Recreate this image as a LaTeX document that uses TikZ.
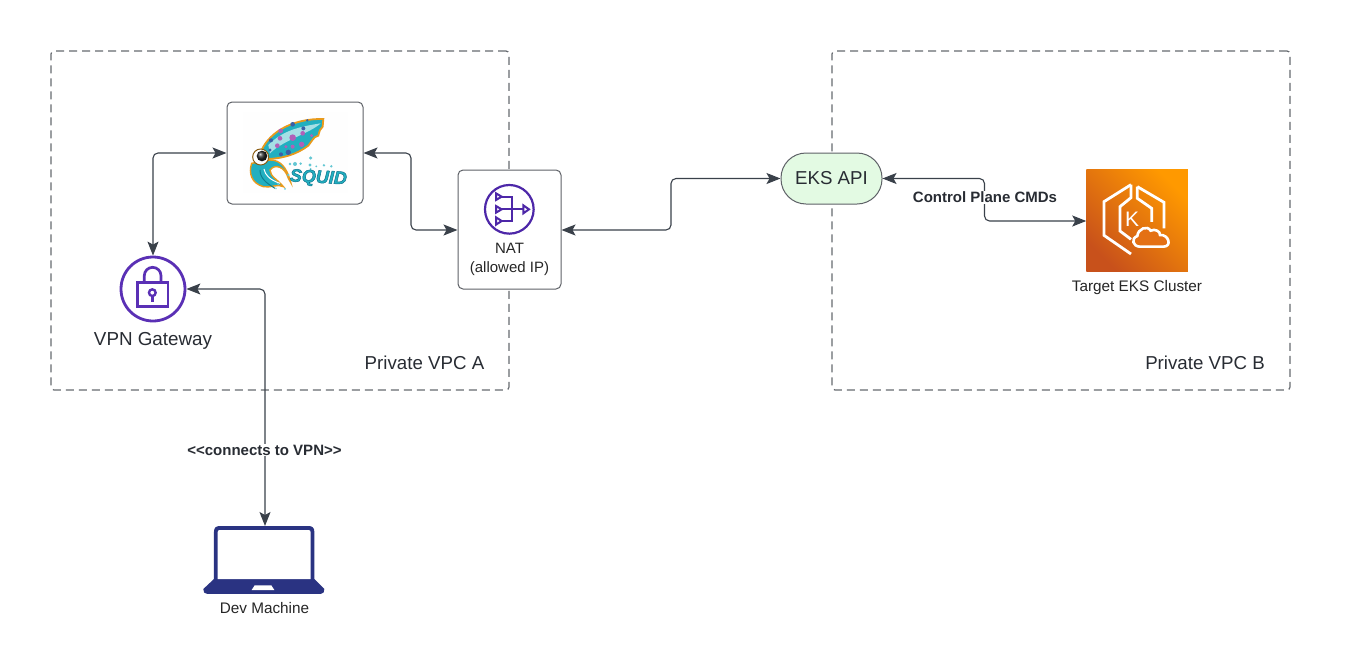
\documentclass[tikz,border=0pt]{standalone}
\usepackage{fontspec}
\setmainfont{Liberation Sans}
\usetikzlibrary{arrows.meta,positioning}
\definecolor{conncol}{HTML}{3A414A}
\definecolor{boxline}{HTML}{5E6167}
\definecolor{dashline}{HTML}{666A70}
\definecolor{txt}{HTML}{282C33}
\definecolor{vpnpurple}{HTML}{5A30B5}
\definecolor{natpurple}{HTML}{4D27A8}
\definecolor{navy}{HTML}{2A3382}
\definecolor{apigreen}{HTML}{E3FAE3}
\definecolor{sqteal}{HTML}{22AFC0}
\definecolor{sqdark}{HTML}{0F7E8E}
\definecolor{sqor}{HTML}{E89A1C}
\definecolor{sqpink}{HTML}{B060B8}
\definecolor{sqblue}{HTML}{3A5FA8}
\definecolor{eksdark}{HTML}{C8511B}
\definecolor{ekslight}{HTML}{FF9900}
\definecolor{eksmid}{HTML}{E47014}
\tikzset{
  x=1pt,y=-1pt,
  vpc/.style={draw=dashline,line width=1.2pt,dash pattern=on 8pt off 5pt,rounded corners=3pt},
  card/.style={draw=boxline,line width=1pt,fill=white,rounded corners=5pt,minimum width=136pt,minimum height=102pt,inner sep=0pt},
  connline/.style={draw=conncol,line width=1.1pt,rounded corners=5pt,{Stealth[length=14pt,width=11pt,inset=3pt]}-{Stealth[length=14pt,width=11pt,inset=3pt]}},
  lab/.style={font=\fontsize{15}{17}\selectfont\bfseries,text=txt,fill=white,inner xsep=1pt,inner ysep=1pt},
  captxt/.style={font=\fontsize{15.3}{18}\selectfont,text=black!85!white,inner sep=0pt,align=center},
  vpctext/.style={font=\fontsize{18.7}{22}\selectfont,text=txt,inner sep=0pt},
}
\begin{document}
\begin{tikzpicture}
\useasboundingbox (0,0) rectangle (1358,667);
\fill[white] (0,0) rectangle (1358,667);
% VPC frames
\node[vpc,minimum width=458pt,minimum height=339pt,inner sep=0pt] (vpcA) at (280,220.5) {};
\node[vpc,minimum width=458pt,minimum height=339pt,inner sep=0pt] (vpcB) at (1061,220.5) {};
\node[vpctext] (vpcAt) at (424.5,363) {Private VPC A};
\node[vpctext] (vpcBt) at (1205,363) {Private VPC B};
% nodes
\node[card] (squid) at (295,153) {};
\node[circle,draw=vpnpurple,line width=2.8pt,minimum size=64pt,inner sep=0pt] (vpn) at (153,289) {};
\node[card,minimum width=103pt,minimum height=119pt] (nat) at (509.5,229.5) {};
\node[draw=boxline,line width=1pt,fill=apigreen,rounded corners=25pt,minimum width=101pt,minimum height=51pt,inner sep=0pt,font=\fontsize{18.7}{22}\selectfont,text=txt] (api) at (831.5,178.5) {EKS API};
\node[inner sep=0pt,minimum size=101.5pt,bottom color=eksdark,top color=ekslight,shading angle=-45] (eks) at (1137.2,220.3) {};
\coordinate (laptoptop) at (265,526);
% connectors
\draw[connline] (vpn.north) |- (squid.west);
\draw[connline] (squid.east) -- (411,153) -- (411,230) -- (nat.west |- 411,230);
\draw[connline] (nat.east |- 0,230) -- (671,230) -- (671,178.5) -- (api.west);
\draw[connline] (api.east) -- (984.5,178.5) -- (984.5,221) -- (eks.west |- 0,221);
\draw[connline] (vpn.east) -- (265,289) -- (laptoptop);
\node[lab] (l1) at (985,197.5) {Control Plane CMDs};
\node[lab] (l2) at (264.5,450) {<{}<connects to VPN>{}>};
% captions
\node[font=\fontsize{18.8}{22}\selectfont,text=txt,inner sep=0pt] (vpnt) at (153,341) {VPN Gateway};
\node[captxt,font=\fontsize{15}{19}\selectfont] (natt) at (509.5,259) {NAT\\(allowed IP)};
\node[captxt] (eksl) at (1137,288) {Target EKS Cluster};
\node[captxt] (devl) at (264.5,608.5) {Dev Machine};
% VPN lock
\begin{scope}[shift={(100,245)},x=0.3333pt,y=-0.3333pt]
  \draw[vpnpurple,line width=2.7pt] (113,113) rectangle (204,184);
  \draw[vpnpurple,line width=2.7pt] (133,113) -- (133,92) arc[start angle=180,end angle=360,x radius=25,y radius=25] -- (183,113);
  \draw[vpnpurple,line width=2.4pt] (157,143) circle[radius=10];
  \draw[vpnpurple,line width=2.4pt] (157,153) -- (157,170);
\end{scope}
% NAT icon
\begin{scope}[shift={(450,160)},x=0.3333pt,y=-0.3333pt]
  \draw[natpurple,line width=2.2pt] (178,148) circle[radius=73];
  \begin{scope}[natpurple,line width=2pt,line join=miter]
    \draw (138,100) -- (155,110) -- (138,120) -- cycle;
    \draw (138,138) -- (155,148) -- (138,158) -- cycle;
    \draw (138,172) -- (155,183) -- (138,194) -- cycle;
    \draw (220,136) -- (237,148) -- (220,160) -- cycle;
    \draw (155,110) -- (187,110) -- (187,183) -- (155,183);
    \draw (155,148) -- (220,148);
  \end{scope}
\end{scope}
% EKS icon
\begin{scope}[shift={(1060,160)},x=0.3333pt,y=-0.3333pt,white,line width=2.8pt,line join=miter]
  \draw (213,74) -- (132,125) -- (132,226) -- (213,282);
  \draw (213,74) -- (213,113) -- (180,140) -- (180,213) -- (213,238);
  \draw (232,80) -- (232,115) -- (275,145) -- (275,186);
  \draw (232,80) -- (312,127) -- (312,205);
  \node[white,inner sep=0pt,font=\fontsize{21}{21}\selectfont] (kk) at (216,178) {K};
  \draw[fill=eksmid,line width=2.6pt]
    (240,260) .. controls (218,260) and (212,235) .. (232,228)
    .. controls (234,206) and (262,195) .. (272,212)
    .. controls (285,205) and (302,215) .. (300,225)
    .. controls (325,222) and (338,260) .. (310,260) -- cycle;
\end{scope}
% Laptop
\begin{scope}[shift={(190,515)},x=0.3333pt,y=-0.3333pt]
  \fill[navy] (40,222) -- (72,192) -- (72,50) .. controls (72,38) and (78,33) .. (90,33) -- (355,33) .. controls (367,33) and (373,38) .. (373,50) -- (373,192) -- (403,222) .. controls (404,230) and (400,237) .. (392,237) -- (52,237) .. controls (44,237) and (38,230) .. (40,222) -- cycle;
  \fill[white] (83,192) -- (83,52) .. controls (83,47) and (85,45) .. (90,45) -- (355,45) .. controls (360,45) and (362,47) .. (362,52) -- (362,192) -- cycle;
  \fill[white] (194,211) -- (244,211) -- (253,225) -- (185,225) -- cycle;
\end{scope}
% Squid logo
\begin{scope}[shift={(220,95)},x=0.3333pt,y=-0.3333pt]
  \fill[white!99!gray] (70,50) rectangle (385,295);
  % tentacles
  \draw[sqor,line width=1.4pt,fill=sqteal] (95,205) .. controls (85,235) and (95,265) .. (130,275)
     .. controls (150,280) and (175,265) .. (190,275) .. controls (175,255) and (150,245) .. (150,225)
     .. controls (165,205) and (195,215) .. (205,250) -- (212,262)
     .. controls (200,215) and (180,195) .. (150,195) -- cycle;
  \draw[sqdark,line width=1pt] (120,225) .. controls (120,250) and (140,265) .. (165,280);
  \draw[white,line width=1pt] (132,222) .. controls (135,240) and (150,255) .. (180,265);
  % mantle
  \draw[sqor,line width=1.8pt,fill=sqteal] (125,165) .. controls (150,110) and (220,70) .. (310,72)
     -- (308,95) .. controls (300,100) and (298,110) .. (295,122)
     .. controls (280,125) and (275,140) .. (265,152)
     .. controls (230,178) and (190,190) .. (145,192) -- cycle;
  \fill[white,opacity=0.6] (145,150) .. controls (190,105) and (240,95) .. (302,85) .. controls (270,115) and (190,135) .. (150,175) -- cycle;
  \foreach \px/\py/\pr in {218/128/10,248/115/7,182/108/7,180/130/7,172/152/7,245/148/8,218/155/6,198/155/5,275/122/5}
    \fill[sqpink] (\px,\py) circle[radius=\pr];
  \foreach \px/\py/\pr in {250/100/6,218/88/7,153/136/6,205/172/8,262/76/4,150/165/5,183/178/6}
    \fill[sqblue] (\px,\py) circle[radius=\pr];
  % eye
  \draw[sqor!60!black,line width=1pt,fill=white] (122,186) circle[radius=24];
  \shade[ball color=black!85] (126,183) circle[radius=16];
  % bubbles
  \foreach \px/\py/\pr in {272/189/5,210/207/4,225/207/6,242/206/4,270/210/5,289/214/3,312/211/4,334/214/4,272/222/3,205/240/4,175/267/4,195/282/3,168/281/2}
    \fill[sqteal!70!white] (\px,\py) circle[radius=\pr];
  % word
  \node[inner sep=0pt,rotate=-3,font=\fontsize{18}{18}\selectfont\bfseries\itshape,text=sqteal] (sqw) at (295,250) {\special{pdf:code 2 Tr 0.5 w 0.06 0.45 0.55 RG}SQUID\special{pdf:code 0 Tr}};
\end{scope}
\end{tikzpicture}
\end{document}
